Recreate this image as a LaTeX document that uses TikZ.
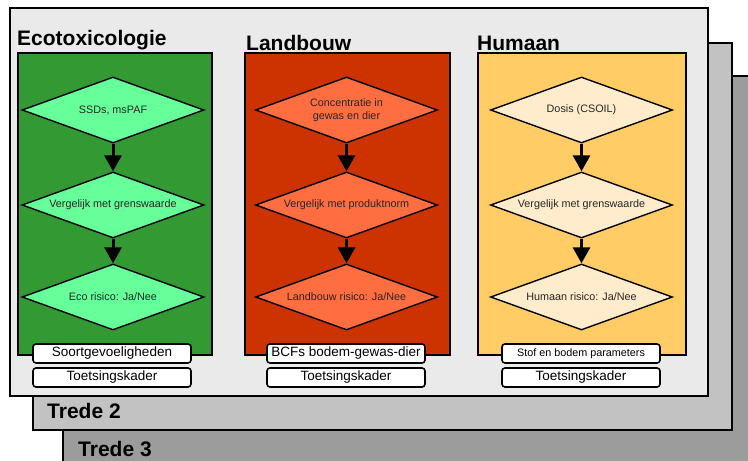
\documentclass[tikz,border=0pt]{standalone}
\usepackage{fontspec}
\setmainfont{Liberation Sans}
\usetikzlibrary{shapes.geometric,arrows.meta}

\definecolor{tierone}{HTML}{EAEAEA}
\definecolor{tiertwo}{HTML}{C2C2C2}
\definecolor{tierthree}{HTML}{9C9C9C}
\definecolor{ecopanel}{HTML}{339933}
\definecolor{ecostep}{HTML}{66FF99}
\definecolor{agripanel}{HTML}{CC3300}
\definecolor{agristep}{HTML}{FF6E40}
\definecolor{humpanel}{HTML}{FFCC66}
\definecolor{humstep}{HTML}{FFECCC}

\tikzset{
  tier/.style={draw=black, line width=1.8pt},
  tierlabel/.style={anchor=base west, inner sep=0pt, font=\fontsize{21}{25}\selectfont\bfseries},
  heading/.style={anchor=base west, inner sep=0pt, font=\fontsize{21}{25}\selectfont\bfseries},
  panel/.style={draw=black, line width=1.6pt, rectangle, inner sep=0pt, anchor=north west},
  stepbox/.style={diamond, draw=black, line width=1.4pt, shape aspect=2.75,
    minimum width=182pt, minimum height=66pt, inner sep=0pt, align=center,
    text=black!85, font=\fontsize{10.8}{13}\selectfont},
  flow/.style={line width=3pt, -{Triangle[width=17pt,length=16pt]}},
  infobox/.style={draw=black, line width=1.6pt, fill=white, rounded corners=3pt,
    minimum width=158pt, minimum height=19pt, inner sep=0pt,
    font=\fontsize{13.5}{15}\selectfont},
}

\begin{document}
\begin{tikzpicture}[x=1pt,y=-1pt]
\useasboundingbox (0,0) rectangle (748,461);
\clip (0,0) rectangle (748,461);
\fill[white] (0,0) rectangle (748,461);

% stacked tiers
\draw[tier, fill=tierthree] (63,76) rectangle (770,480);
\draw[tier, fill=tiertwo] (33,43) rectangle (732,430);
\draw[tier, fill=tierone] (10,8) rectangle (708,396);
\node[tierlabel] (t2) at (47,418) {Trede 2};
\node[tierlabel] (t3) at (78,456) {Trede 3};

% panel headings
\node[heading] (heco) at (17,45) {Ecotoxicologie};
\node[heading] (hagri) at (246,50) {Landbouw};
\node[heading] (hhum) at (477,50) {Humaan};

% panels
\node[panel, fill=ecopanel, minimum width=194pt, minimum height=302pt] (peco) at (17,52) {};
\node[panel, fill=agripanel, minimum width=205pt, minimum height=302pt] (pagri) at (244,52) {};
\node[panel, fill=humpanel, minimum width=208pt, minimum height=302pt] (phum) at (477,52) {};

% ecotoxicology chain
\node[stepbox, fill=ecostep] (e1) at (113,110) {SSDs, msPAF};
\node[stepbox, fill=ecostep] (e2) at (113,205) {Vergelijk met grenswaarde};
\node[stepbox, fill=ecostep] (e3) at (113,297) {Eco risico: Ja/Nee};
\draw[flow] (e1.south) -- (e2.north);
\draw[flow] (e2.south) -- (e3.north);

% agriculture chain
\node[stepbox, fill=agristep] (a1) at (346.5,110) {Concentratie in\\gewas en dier};
\node[stepbox, fill=agristep] (a2) at (346.5,205) {Vergelijk met produktnorm};
\node[stepbox, fill=agristep] (a3) at (346.5,297) {Landbouw risico: Ja/Nee};
\draw[flow] (a1.south) -- (a2.north);
\draw[flow] (a2.south) -- (a3.north);

% human chain
\node[stepbox, fill=humstep] (h1) at (581.5,110) {Dosis (CSOIL)};
\node[stepbox, fill=humstep] (h2) at (581.5,205) {Vergelijk met grenswaarde};
\node[stepbox, fill=humstep] (h3) at (581.5,297) {Humaan risico: Ja/Nee};
\draw[flow] (h1.south) -- (h2.north);
\draw[flow] (h2.south) -- (h3.north);

% input and assessment boxes
\node[infobox] (ein) at (112,353.5) {Soortgevoeligheden};
\node[infobox] (eout) at (112,377.5) {Toetsingskader};
\node[infobox] (ain) at (346,353.5) {BCFs bodem-gewas-dier};
\node[infobox] (aout) at (346,377.5) {Toetsingskader};
\node[infobox, font=\fontsize{10.8}{12}\selectfont] (hin) at (581,353.5) {Stof en bodem parameters};
\node[infobox] (hout) at (581,377.5) {Toetsingskader};
\end{tikzpicture}
\end{document}
